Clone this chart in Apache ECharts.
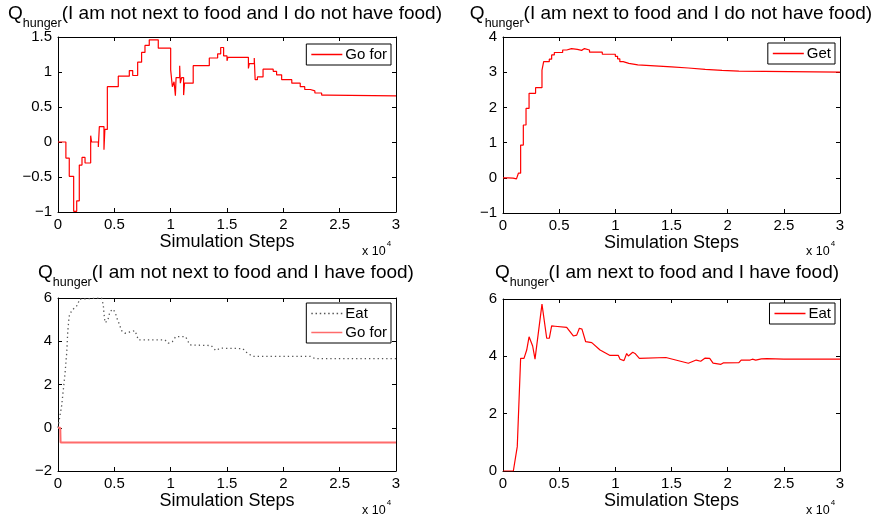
<!DOCTYPE html>
<html lang="en">
<head>
<meta charset="UTF-8">
<title>Q hunger</title>
<script src="https://cdn.jsdelivr.net/npm/echarts@6/dist/echarts.min.js"></script>
<style>
	html,body{margin:0;padding:0;background:#fff;}
	#chart{width:875px;height:520px;}
</style>
</head>
<body>
<div id="chart"></div>
<script>
	// panel 1: not next to food, no food  (step curve)
	var goForNoFoodSteps = [0, 700, 1000, 1390, 1660, 1890, 2130, 2400, 2900, 2980, 3580, 3670, 4080, 4160, 4380, 5350, 6330, 6630, 7070, 7420, 7720, 8100, 8900, 10000, 10150, 10300, 10420, 10480, 10800, 10860, 10970, 11150, 11230, 12000, 13430, 14170, 14440, 14700, 15000, 15080, 16900, 16980, 17420, 17500, 17700, 18200, 19100, 19400, 19850, 20750, 21500, 21900, 22400, 22800, 23400, 23900, 30000];
	var goForNoFood = [0, -0.23, -0.49, -0.99, -0.84, -0.33, -0.22, -0.30, 0.09, 0, -0.07, 0.22, -0.11, 0.18, 0.79, 0.94, 1.02, 0.95, 1.14, 1.28, 1.38, 1.46, 1.34, 1.03, 0.79, 0.86, 0.66, 0.92, 1.09, 0.84, 0.92, 0.67, 0.84, 1.09, 1.20, 1.26, 1.35, 1.23, 1.16, 1.21, 1.05, 1.12, 1.20, 0.89, 0.93, 1.04, 1.01, 0.96, 0.89, 0.84, 0.79, 0.75, 0.73, 0.70, 0.67, 0.66, 0.66];

	// panel 2: next to food, no food (step curve)
	var getSteps = [0, 450, 900, 1200, 1370, 1570, 1810, 2050, 2320, 2900, 3470, 3620, 4120, 4330, 4570, 5310, 5670, 6100, 6620, 7000, 7250, 7700, 8840, 10000, 10200, 10400, 10700, 11200, 12000, 13500, 15000, 16500, 18000, 19500, 21000, 30000];
	var getValues = [0, -0.01, -0.03, -0.05, 0.13, 0.93, 1.50, 1.97, 2.40, 2.56, 3.06, 3.30, 3.37, 3.49, 3.56, 3.63, 3.67, 3.65, 3.62, 3.67, 3.63, 3.57, 3.51, 3.45, 3.38, 3.30, 3.25, 3.21, 3.18, 3.15, 3.12, 3.08, 3.05, 3.03, 3.00, 3.00];

	// panel 3: not next to food, have food
	var eatHaveSteps = [0, 330, 470, 620, 770, 860, 980, 1210, 1360, 1750, 1900, 2000, 3870, 4020, 4080, 4170, 4410, 4610, 4900, 5100, 5200, 5410, 5650, 5940, 6540, 6830, 6980, 7130, 9500, 9790, 10150, 10440, 11330, 11500, 11700, 13600, 14000, 14400, 16400, 16800, 17300, 22400, 22800, 30000];
	var eatHave = [0, 1.05, 1.74, 2.50, 3.44, 4.37, 5.14, 5.42, 5.45, 5.68, 5.95, 6.00, 6.00, 5.68, 5.30, 4.86, 4.95, 5.37, 5.48, 5.30, 5.11, 4.83, 4.49, 4.37, 4.45, 4.49, 4.29, 4.06, 4.06, 3.91, 3.98, 4.21, 4.21, 4.03, 3.83, 3.80, 3.57, 3.68, 3.66, 3.45, 3.30, 3.30, 3.20, 3.20];
	var goForHaveSteps = [0, 200, 230, 30000];
	var goForHave = [0, 0, -0.68, -0.68];

	// panel 4: next to food, have food
	var eatNearSteps = [0, 920, 1270, 1360, 1570, 1870, 2110, 2320, 2640, 2850, 3470, 3890, 4120, 4330, 4630, 5670, 6260, 6560, 6800, 7030, 7360, 7900, 8640, 9530, 10270, 10420, 10770, 11010, 11160, 11550, 11750, 12140, 14500, 16500, 17200, 17600, 18000, 18400, 18700, 19400, 19600, 21000, 21200, 22000, 22200, 22500, 23000, 23500, 25000, 30000];
	var eatNear = [0, 0, 0.85, 0.85, 3.93, 3.93, 4.22, 4.68, 4.36, 3.90, 5.82, 4.63, 4.63, 5.06, 5.05, 5.01, 4.71, 4.74, 4.98, 4.95, 4.51, 4.48, 4.22, 4.03, 4.03, 3.90, 3.85, 4.10, 4.01, 4.14, 4.10, 3.93, 3.96, 3.76, 3.87, 3.83, 3.94, 3.93, 3.76, 3.72, 3.77, 3.78, 3.87, 3.87, 3.90, 3.87, 3.91, 3.92, 3.90, 3.90];

	var titles = [
		'(I am not next to food and I do not have food)',
		'(I am next to food and I do not have food)',
		'(I am not next to food and I have food)',
		'(I am next to food and I have food)'
	];

	var FONT = '"Liberation Sans", Arial, Helvetica, sans-serif';

	// legend icons: a solid stroke and a row of dots
	var SOLID_ICON = 'path://M0,0H31V1.5H0Z';
	var DOT_ICON = 'path://' + (function () {
		var d = '';
		for (var x = 0; x <= 28; x += 4) d += 'M' + x + ',0h1.4v1.4h-1.4z';
		return d;
	})();

	function zip(xs, ys) {
		var out = [];
		for (var i = 0; i < xs.length; i++) out.push([xs[i], ys[i]]);
		return out;
	}

	// layout of the four boxes
	var panels = [
		{ left: 58, top: 37, width: 338, height: 175, yMin: -1, yMax: 1.5, yStep: 0.5, titleX: 225, titleY: 4, legendRight: 484, legendTop: 44, expX: 362, expY: 240 },
		{ left: 503, top: 37, width: 337, height: 176, yMin: -1, yMax: 4, yStep: 1, titleX: 671, titleY: 4, legendRight: 40, legendTop: 43, expX: 806, expY: 240 },
		{ left: 58, top: 298, width: 338, height: 173, yMin: -2, yMax: 6, yStep: 2, titleX: 226, titleY: 263, legendRight: 484, legendTop: 303, expX: 362, expY: 499 },
		{ left: 503, top: 299, width: 337, height: 172, yMin: 0, yMax: 6, yStep: 2, titleX: 667, titleY: 263, legendRight: 40, legendTop: 303, expX: 806, expY: 499 }
	];

	var panelSeries = [
		[{ name: 'Go for#1', data: zip(goForNoFoodSteps, goForNoFood), step: 'end', color: '#ff0000', width: 1.2 }],
		[{ name: 'Get#2', data: zip(getSteps, getValues), step: 'end', color: '#ff0000', width: 1.2 }],
		[
			{ name: 'Eat#3', data: zip(eatHaveSteps, eatHave), color: '#555', width: 1.3, type: [1.3, 3], icon: DOT_ICON },
			{ name: 'Go for#3', data: zip(goForHaveSteps, goForHave), color: '#ff6b6b', width: 2 }
		],
		[{ name: 'Eat#4', data: zip(eatNearSteps, eatNear), color: '#ff0000', width: 1.2 }]
	];

	var myChart = echarts.init(document.getElementById('chart'), null, { renderer: 'canvas' });

	var grid = [], xAxis = [], yAxis = [], series = [], legend = [], title = [];

	function minus(v) { return String(v).replace('-', '\u2212'); }

	panels.forEach(function (p, i) {
		grid.push({ left: p.left, top: p.top, width: p.width, height: p.height, containLabel: false });

		var tick = { show: true, inside: true, length: 4, lineStyle: { color: '#000' } };
		var line = { show: true, onZero: false, lineStyle: { color: '#000', width: 1 } };

		xAxis.push({
			gridIndex: i, type: 'value', position: 'bottom', min: 0, max: 30000, interval: 5000,
			axisLine: line, axisTick: tick, splitLine: { show: false },
			axisLabel: { margin: 5, color: '#000', fontSize: 15, fontFamily: FONT, formatter: function (v) { return String(v / 10000); } },
			name: 'Simulation Steps', nameLocation: 'middle', nameGap: 21,
			nameTextStyle: { fontSize: 18, color: '#000', fontFamily: FONT }
		});
		xAxis.push({
			gridIndex: i, type: 'value', position: 'top', min: 0, max: 30000, interval: 5000,
			axisLine: line, axisTick: tick, splitLine: { show: false }, axisLabel: { show: false }
		});
		yAxis.push({
			gridIndex: i, type: 'value', position: 'left', min: p.yMin, max: p.yMax, interval: p.yStep,
			axisLine: line, axisTick: tick, splitLine: { show: false },
			axisLabel: { margin: 6, color: '#000', fontSize: 15, fontFamily: FONT, formatter: minus }
		});
		yAxis.push({
			gridIndex: i, type: 'value', position: 'right', min: p.yMin, max: p.yMax, interval: p.yStep,
			axisLine: line, axisTick: tick, splitLine: { show: false }, axisLabel: { show: false }
		});

		var items = [];
		panelSeries[i].forEach(function (s) {
			items.push({ name: s.name, icon: s.icon || SOLID_ICON });
			series.push({
				name: s.name, type: 'line', xAxisIndex: 2 * i, yAxisIndex: 2 * i,
				data: s.data, step: s.step || false, symbol: 'none', showSymbol: false,
				color: s.color, silent: true,
				lineStyle: { color: s.color, width: s.width, type: s.type || 'solid' }
			});
		});

		legend.push({
			data: items, right: p.legendRight, top: p.legendTop, orient: 'vertical',
			selectedMode: false, itemWidth: 31, itemHeight: 1.5, itemGap: 4, symbolKeepAspect: false,
			itemStyle: { borderWidth: 0 },
			padding: [3, 4, 3, 5], borderColor: '#000', borderWidth: 1, backgroundColor: '#fff',
			textStyle: { fontSize: 15, color: '#000', fontFamily: FONT, padding: [0, 0, 0, -2] },
			formatter: function (n) { return n.split('#')[0]; }
		});

		title.push({
			text: '{q|Q}{s|hunger}{t|' + titles[i] + '}',
			left: p.titleX, top: p.titleY, textAlign: 'center', padding: 0,
			textStyle: {
				fontWeight: 'normal',
				rich: {
					q: { fontSize: 19, fontWeight: 'normal', lineHeight: 22, verticalAlign: 'top', color: '#000', fontFamily: FONT },
					s: { fontSize: 12.5, fontWeight: 'normal', lineHeight: 14, padding: [13, 0, 0, 0], verticalAlign: 'top', color: '#000', fontFamily: FONT },
					t: { fontSize: 19, fontWeight: 'normal', lineHeight: 22, verticalAlign: 'top', color: '#000', fontFamily: FONT }
				}
			}
		});
		title.push({
			text: '{a|x 10}{b|4}',
			left: p.expX, top: p.expY, padding: 0,
			textStyle: {
				fontWeight: 'normal',
				rich: {
					a: { fontSize: 12.5, fontWeight: 'normal', lineHeight: 14, padding: [5, 0, 0, 0], verticalAlign: 'top', color: '#000', fontFamily: FONT },
					b: { fontSize: 8, fontWeight: 'normal', lineHeight: 9, padding: [0, 0, 0, 1], verticalAlign: 'top', color: '#000', fontFamily: FONT }
				}
			}
		});
	});

	var options = {
		backgroundColor: '#fff',
		animation: false,
		title: title,
		legend: legend,
		grid: grid,
		xAxis: xAxis,
		yAxis: yAxis,
		series: series
	};
	myChart.setOption(options);
</script>
</body>
</html>
